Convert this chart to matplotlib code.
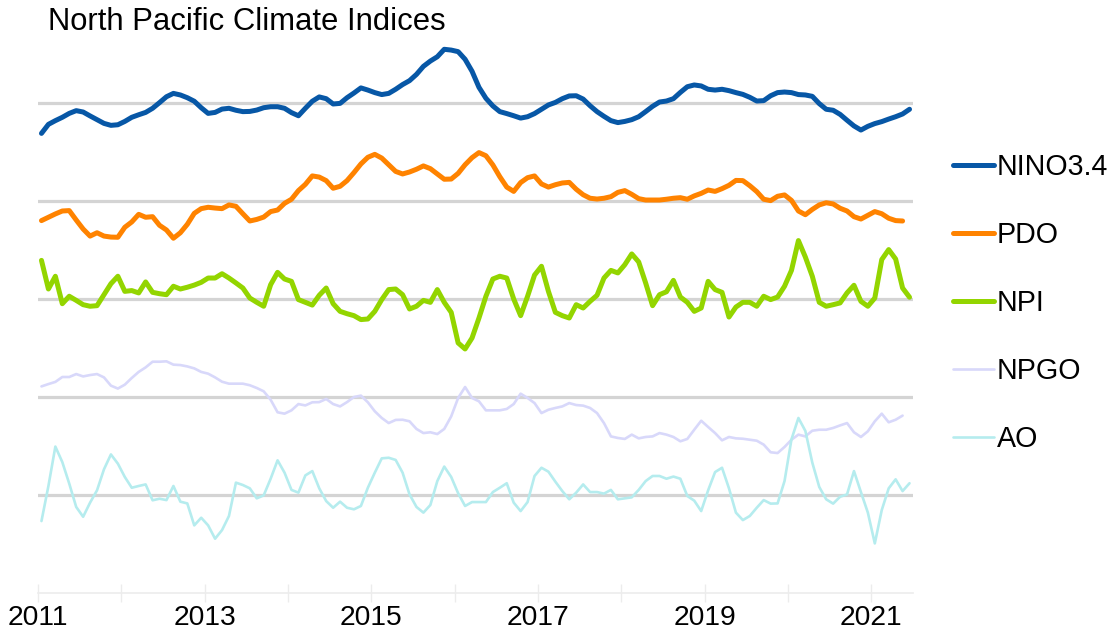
import numpy as np
import matplotlib
matplotlib.use("Agg")
import matplotlib.pyplot as plt
from matplotlib.lines import Line2D

plt.rcParams['font.family'] = ['Liberation Sans', 'DejaVu Sans']

# ---- data (monthly index values from Jan 2011) ----
series_names = ["NINO3.4", "PDO", "NPI", "NPGO", "AO"]
series_colors = ["#0757a6", "#ff8300", "#93d500", "#d8d8fa", "#b5ecee"]
series_widths = [3.6, 3.6, 3.6, 1.9, 1.9]
series_offsets = [20, 15, 10, 5, 0]

nino34 = [-1.55, -1.09, -0.90, -0.73, -0.53, -0.39, -0.46, -0.66, -0.85, -1.04,
          -1.14, -1.11, -0.94, -0.73, -0.60, -0.48, -0.27, 0.02, 0.32, 0.49,
          0.41, 0.27, 0.09, -0.24, -0.53, -0.48, -0.31, -0.27, -0.37, -0.44,
          -0.43, -0.36, -0.24, -0.19, -0.19, -0.27, -0.49, -0.65, -0.27, 0.09,
          0.31, 0.22, -0.05, -0.02, 0.27, 0.51, 0.77, 0.66, 0.53, 0.43,
          0.49, 0.70, 0.94, 1.14, 1.46, 1.87, 2.14, 2.36, 2.74, 2.70,
          2.62, 2.23, 1.62, 0.80, 0.24, -0.15, -0.44, -0.54, -0.65, -0.77,
          -0.70, -0.54, -0.32, -0.10, 0.03, 0.22, 0.36, 0.37, 0.20, -0.14,
          -0.44, -0.68, -0.90, -1.00, -0.94, -0.85, -0.70, -0.44, -0.17, 0.05,
          0.10, 0.22, 0.54, 0.83, 0.92, 0.87, 0.70, 0.66, 0.70, 0.63,
          0.53, 0.44, 0.29, 0.10, 0.12, 0.37, 0.53, 0.56, 0.53, 0.43,
          0.41, 0.34, -0.03, -0.32, -0.37, -0.58, -0.88, -1.17, -1.38, -1.19,
          -1.05, -0.95, -0.82, -0.70, -0.56, -0.32]

pdo = [-1.00, -0.83, -0.66, -0.51, -0.49, -0.97, -1.43, -1.79, -1.62, -1.79,
       -1.84, -1.85, -1.34, -1.07, -0.68, -0.83, -0.80, -1.24, -1.48, -1.90,
       -1.62, -1.19, -0.63, -0.39, -0.32, -0.36, -0.39, -0.20, -0.27, -0.65,
       -1.02, -0.94, -0.82, -0.54, -0.46, -0.12, 0.09, 0.53, 0.85, 1.28,
       1.22, 1.04, 0.65, 0.75, 1.04, 1.45, 1.89, 2.23, 2.38, 2.19,
       1.85, 1.51, 1.38, 1.48, 1.62, 1.79, 1.65, 1.38, 1.11, 1.12,
       1.41, 1.85, 2.21, 2.47, 2.31, 1.84, 1.24, 0.71, 0.49, 0.94,
       1.19, 1.28, 0.87, 0.71, 0.83, 0.92, 0.95, 0.60, 0.32, 0.14,
       0.10, 0.14, 0.22, 0.44, 0.53, 0.34, 0.12, 0.05, 0.05, 0.05,
       0.09, 0.14, 0.17, 0.09, 0.26, 0.39, 0.56, 0.49, 0.63, 0.80,
       1.05, 1.04, 0.78, 0.48, 0.09, 0.02, 0.24, 0.31, 0.03, -0.51,
       -0.70, -0.43, -0.20, -0.09, -0.15, -0.37, -0.51, -0.80, -0.92, -0.73,
       -0.54, -0.65, -0.88, -1.00, -1.02]

npi = [1.97, 0.51, 1.16, -0.24, 0.14, -0.07, -0.29, -0.37, -0.34, 0.22,
       0.78, 1.16, 0.39, 0.43, 0.31, 0.87, 0.34, 0.27, 0.22, 0.65,
       0.51, 0.60, 0.71, 0.85, 1.07, 1.07, 1.29, 1.07, 0.82, 0.56,
       0.05, -0.17, -0.37, 0.73, 1.36, 1.02, 0.90, -0.03, -0.17, -0.31,
       0.19, 0.56, -0.24, -0.63, -0.75, -0.85, -1.05, -1.02, -0.63, -0.03,
       0.48, 0.51, 0.22, -0.51, -0.37, -0.07, -0.17, 0.48, -0.17, -0.68,
       -2.24, -2.55, -1.99, -0.97, 0.14, 1.02, 1.16, 1.07, 0.00, -0.85,
       0.14, 1.22, 1.67, 0.39, -0.68, -0.85, -0.97, -0.29, -0.46, -0.12,
       0.19, 1.07, 1.46, 1.33, 1.75, 2.30, 1.89, 0.82, -0.34, 0.22,
       0.37, 0.95, 0.10, -0.17, -0.63, -0.46, 0.90, 0.48, 0.34, -0.92,
       -0.41, -0.17, -0.17, -0.37, 0.14, -0.03, 0.10, 0.65, 1.46, 2.98,
       2.14, 1.16, -0.17, -0.37, -0.29, -0.20, 0.31, 0.70, -0.12, -0.37,
       0.05, 2.01, 2.52, 2.04, 0.56, 0.09]

npgo = [0.54, 0.66, 0.77, 1.02, 1.02, 1.17, 1.05, 1.12, 1.17, 1.00,
        0.58, 0.43, 0.63, 0.97, 1.28, 1.51, 1.80, 1.80, 1.82, 1.65,
        1.63, 1.56, 1.46, 1.28, 1.19, 1.00, 0.78, 0.68, 0.68, 0.68,
        0.60, 0.46, 0.29, -0.14, -0.78, -0.85, -0.68, -0.36, -0.43, -0.27,
        -0.26, -0.10, -0.36, -0.48, -0.26, 0.00, 0.07, -0.27, -0.73, -1.07,
        -1.33, -1.17, -1.16, -1.24, -1.63, -1.84, -1.80, -1.89, -1.63, -0.99,
        -0.05, 0.51, -0.05, -0.22, -0.68, -0.68, -0.68, -0.61, -0.36, 0.17,
        -0.05, -0.31, -0.82, -0.65, -0.56, -0.48, -0.31, -0.41, -0.44, -0.56,
        -0.82, -1.33, -2.01, -2.09, -2.14, -1.92, -2.11, -2.04, -2.01, -1.84,
        -1.92, -2.04, -2.26, -2.14, -1.67, -1.21, -1.53, -1.84, -2.21, -2.04,
        -2.11, -2.13, -2.18, -2.23, -2.43, -2.82, -2.86, -2.55, -2.18, -1.92,
        -2.01, -1.72, -1.67, -1.67, -1.58, -1.45, -1.33, -1.80, -2.04, -1.75,
        -1.24, -0.85, -1.29, -1.16, -0.95]

ao = [-1.33, 0.46, 2.47, 1.68, 0.58, -0.61, -1.11, -0.39, 0.24, 1.31,
      2.07, 1.60, 0.92, 0.37, 0.46, 0.54, -0.27, -0.19, -0.26, 0.46,
      -0.34, -0.43, -1.55, -1.16, -1.55, -2.23, -1.79, -1.07, 0.63, 0.51,
      0.34, -0.17, -0.02, 0.83, 1.77, 1.14, 0.26, 0.12, 1.00, 1.22,
      0.34, -0.31, -0.65, -0.34, -0.65, -0.73, -0.56, 0.37, 1.14, 1.87,
      1.90, 1.79, 1.14, 0.03, -0.61, -0.90, -0.51, 0.71, 1.45, 0.92,
      0.09, -0.56, -0.36, -0.36, -0.36, 0.15, 0.37, 0.60, -0.39, -0.82,
      -0.36, 0.97, 1.39, 1.19, 0.68, 0.20, -0.22, 0.12, 0.54, 0.15,
      0.15, 0.07, 0.26, -0.22, -0.17, -0.12, 0.26, 0.71, 0.97, 0.97,
      0.83, 0.94, 0.83, -0.05, -0.29, -0.82, 0.24, 1.17, 1.39, 0.34,
      -0.90, -1.28, -1.07, -0.65, -0.26, -0.44, -0.43, 0.71, 2.84, 3.93,
      3.27, 1.65, 0.41, -0.22, -0.44, -0.09, 0.03, 1.22, 0.15, -0.90,
      -2.47, -0.77, 0.34, 0.80, 0.20, 0.60]

series_values = [nino34, pdo, npi, npgo, ao]
year_ticks = [2011, 2013, 2015, 2017, 2019, 2021]
title_text = "North Pacific Climate Indices"

# ---- figure ----
W, H = 1114, 638
fig = plt.figure(figsize=(W / 100, H / 100), dpi=100)
ax = fig.add_axes([38 / W, 1 - 593 / H, (913 - 38) / W, 588 / H])
ax.set_xlim(2011, 2021.5)
ax.set_ylim(-5, 25)

for off in series_offsets:
    ax.axhline(off, color="#d4d4d4", lw=2.3, zorder=1)

for name, vals, col, lw, off in zip(series_names, series_values, series_colors,
                                   series_widths, series_offsets):
    v = np.asarray(vals)
    x = 2011 + (np.arange(len(v)) + 0.5) / 12.0
    ax.plot(x, v + off, color=col, lw=lw, solid_capstyle="round",
            solid_joinstyle="round", zorder=3)

for s in ["top", "right", "left"]:
    ax.spines[s].set_visible(False)
ax.spines["bottom"].set_color("#ececec")
ax.spines["bottom"].set_linewidth(1.2)
ax.set_yticks([])
ax.set_xticks(np.arange(2011, 2022, 1), minor=False)
ax.set_xticklabels([str(y) if y in year_ticks else "" for y in range(2011, 2022)])
ax.tick_params(axis="x", direction="inout", length=13, width=1.0, color="#ececec",
               labelsize=20.3, pad=2, labelcolor="black")

fig.text(48 / W, 1 - 30.5 / H, title_text, fontsize=22.3, ha="left", va="baseline")

# legend (manual)
leg_y = [165, 233, 301, 369, 437]
for name, col, lw, yc in zip(series_names, series_colors, series_widths, leg_y):
    fig.add_artist(Line2D([953 / W, 994 / W], [1 - yc / H, 1 - yc / H],
                          transform=fig.transFigure, color=col, lw=lw,
                          solid_capstyle="round"))
    fig.text(997 / W, 1 - (yc + 10) / H, name, fontsize=20.6, ha="left", va="baseline")

fig.savefig("out.png", dpi=100)
